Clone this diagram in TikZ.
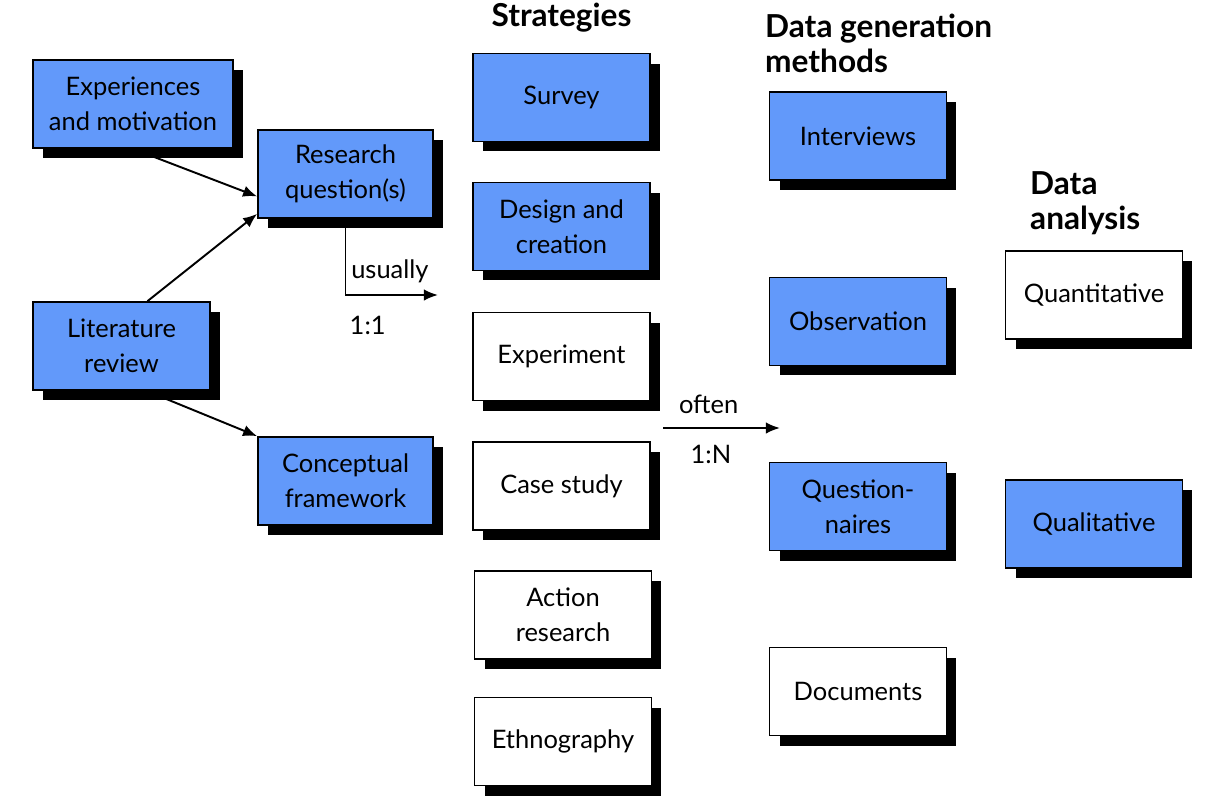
\documentclass[tikz,border=0pt]{standalone}
\usepackage{fontspec}
\setmainfont{Lato}
\usetikzlibrary{positioning,shadows,calc,arrows.meta}
\definecolor{boxblue}{RGB}{98,153,250}
\newcommand{\stratx}{561.5}
\newcommand{\methx}{858}
\newcommand{\anax}{1094}

\begin{document}
\begin{tikzpicture}[x=0.02cm, y=-0.02cm, >={Latex[length=8pt,width=6.5pt]}, font=\fontsize{14.5}{20}\selectfont]
  \tikzset{whitebox/.style={draw, fill=white, line width=1pt, align=center, minimum width=3.54cm, minimum height=1.76cm, drop shadow={shadow xshift=0.2cm, shadow yshift=-0.2cm, fill=black, opacity=1}}}
  \tikzset{bluebox/.style={whitebox, fill=boxblue}}
  \tikzset{heading/.style={font=\fontsize{18}{20}\selectfont\bfseries, align=left}}
  \tikzset{link/.style={->, line width=1.1pt}}
  \useasboundingbox (0,0) rectangle (1221,806);
  % left part
  \node[bluebox, minimum width=4cm] (experiences) at (133, 104) {Experiences\\and motivation};
  \node[bluebox, minimum width=3.5cm] (question) at (345.5, 174) {Research\\question(s)};
  \node[bluebox] (literature) at (121.5, 346) {Literature\\review};
  \node[bluebox, minimum width=3.5cm] (framework) at (345.5, 481) {Conceptual\\framework};
  % strategies
  \node[heading] (strategies) at (\stratx, 18) {Strategies};
  \node[bluebox] (survey) at (\stratx, 97.5) {Survey};
  \node[bluebox] (design) at (\stratx, 226.5) {Design and\\creation};
  \node[whitebox] (experiment) at (\stratx, 356.5) {Experiment};
  \node[whitebox] (casestudy) at (\stratx, 486) {Case study};
  \node[whitebox] (action) at (563, 615) {Action\\research};
  \node[whitebox] (ethnography) at (563, 741.5) {Ethnography};
  % data generation methods
  \node[heading, anchor=west] (methods) at (759, 43) {Data generation\\methods};
  \node[bluebox] (interviews) at (\methx, 136) {Interviews};
  \node[bluebox] (observation) at (\methx, 321.5) {Observation};
  \node[bluebox] (questionnaires) at (\methx, 506.5) {Question-\\naires};
  \node[whitebox] (documents) at (\methx, 691.5) {Documents};
  % data analysis
  \node[heading, anchor=west] (analysis) at (1024, 203) {Data\\analysis};
  \node[whitebox] (quantitative) at (\anax, 295) {Quantitative};
  \node[bluebox] (qualitative) at (\anax, 524) {Qualitative};
  % connectors
  \coordinate (usual) at (438, 295);
  \coordinate (oftenA) at (663, 428);
  \coordinate (oftenB) at (780, 428);
  \draw[link] (experiences.south) -- ($(question.west)!0.5!(question.south west)$);
  \draw[link] ($(literature.north)+(26,0)$) -- ($(question.south west)+(0,-5)$);
  \draw[link] ($(literature.south)+(25,0)$) -- (framework.north west);
  \draw[link] (question.south) |- node[above=3pt, pos=0.74] {usually} node[below=8pt, pos=0.62] {1:1} (usual);
  \draw[link] (oftenA) -- node[above=4pt, pos=0.39] {often} node[below=6pt, pos=0.41] {1:N} (oftenB);
\end{tikzpicture}
\end{document}
